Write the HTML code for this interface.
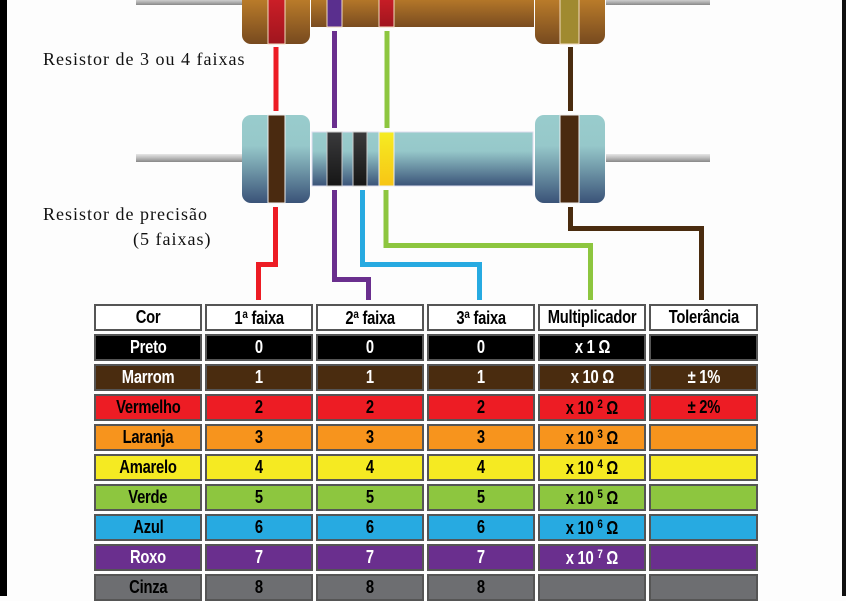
<!DOCTYPE html>
<html><head><meta charset="utf-8"><style>
*{margin:0;padding:0;box-sizing:border-box}
body{width:846px;height:596px;background:#fdfdfd;position:relative;overflow:hidden;font-family:"Liberation Sans",sans-serif}
.lab{position:absolute;font-family:"Liberation Serif",serif;font-size:18px;letter-spacing:1px;color:#111;white-space:nowrap}
.c{position:absolute;height:27px;border:2px solid #555;display:flex;align-items:center;justify-content:center;font-weight:bold;font-size:18px;letter-spacing:-0.3px}
.c span{display:inline-block;transform:scaleX(0.82);white-space:nowrap}
sup{font-size:12px;vertical-align:6px}
</style></head><body>
<div style="position:absolute;left:0;top:0;width:7px;height:596px;background:#000"></div>
<div style="position:absolute;left:842px;top:0;width:4px;height:596px;background:#111"></div>
<svg width="846" height="300" style="position:absolute;left:0;top:0">
<defs>
<linearGradient id="br" x1="0" y1="0" x2="0" y2="1"><stop offset="0" stop-color="#c8862c"/><stop offset="1" stop-color="#774a1f"/></linearGradient>
<linearGradient id="brb" x1="0" y1="0" x2="0" y2="1"><stop offset="0" stop-color="#c8862c"/><stop offset="1" stop-color="#7a4c20"/></linearGradient>
<linearGradient id="bl" x1="0" y1="0" x2="0" y2="1"><stop offset="0" stop-color="#99cccc"/><stop offset="0.35" stop-color="#96c8ca"/><stop offset="1" stop-color="#3a5378"/></linearGradient>
<linearGradient id="ld" x1="0" y1="0" x2="0" y2="1"><stop offset="0" stop-color="#e6e6e6"/><stop offset="0.5" stop-color="#bbb"/><stop offset="1" stop-color="#888"/></linearGradient>
<linearGradient id="rd" x1="0" y1="0" x2="0" y2="1"><stop offset="0" stop-color="#d42029"/><stop offset="1" stop-color="#a0151e"/></linearGradient>
<linearGradient id="bk" x1="0" y1="0" x2="0" y2="1"><stop offset="0" stop-color="#3a3a3c"/><stop offset="1" stop-color="#161616"/></linearGradient>
<linearGradient id="ye" x1="0" y1="0" x2="0" y2="1"><stop offset="0" stop-color="#f6ec22"/><stop offset="1" stop-color="#f7c515"/></linearGradient>
</defs>
<rect x="136" y="-2" width="106" height="7" fill="url(#ld)"/>
<rect x="606" y="-2" width="104" height="7" fill="url(#ld)"/>
<rect x="311" y="-10" width="223" height="37" fill="url(#brb)"/>
<rect x="242" y="-10" width="68" height="54" rx="9" fill="url(#br)"/>
<rect x="535" y="-10" width="70" height="54" rx="9" fill="url(#br)"/>
<rect x="268" y="-10" width="17" height="54" fill="url(#rd)" stroke="#f2dcc0" stroke-width="1"/>
<rect x="327" y="-10" width="15" height="37" fill="#5a2f8e" stroke="#f2dcc0" stroke-width="1"/>
<rect x="379" y="-10" width="15" height="37" fill="url(#rd)" stroke="#f2dcc0" stroke-width="1"/>
<rect x="560" y="-10" width="19" height="54" fill="#a08a30" stroke="#f2dcc0" stroke-width="1"/>
<rect x="136" y="154" width="106" height="8" fill="url(#ld)"/>
<rect x="606" y="154" width="104" height="8" fill="url(#ld)"/>
<rect x="312" y="132" width="221" height="54" fill="url(#bl)" stroke="#dde" stroke-width="1"/>
<rect x="242" y="115" width="68" height="88" rx="9" fill="url(#bl)"/>
<rect x="535" y="115" width="70" height="88" rx="9" fill="url(#bl)"/>
<rect x="268" y="115" width="17" height="88" fill="#4a2a10" stroke="#eee" stroke-width="1"/>
<rect x="560" y="115" width="19" height="88" fill="#4a2a10" stroke="#eee" stroke-width="1"/>
<rect x="327" y="132" width="15" height="54" fill="url(#bk)" stroke="#ccc" stroke-width="1"/>
<rect x="353" y="132" width="14" height="54" fill="url(#bk)" stroke="#ccc" stroke-width="1"/>
<rect x="379" y="132" width="15" height="54" fill="url(#ye)" stroke="#eee" stroke-width="1"/>
<g fill="none" stroke-width="5">
<line x1="276" y1="47" x2="276" y2="111" stroke="#ed1c24"/>
<line x1="334.5" y1="31" x2="334.5" y2="128" stroke="#6a2f8e"/>
<line x1="387" y1="31" x2="387" y2="128" stroke="#8dc63f"/>
<line x1="570.5" y1="47" x2="570.5" y2="111" stroke="#4a2c0f"/>
<polyline points="275.5,207 275.5,264.5 258.5,264.5 258.5,300" stroke="#ed1c24"/>
<polyline points="334.5,190 334.5,279.5 368.5,279.5 368.5,300" stroke="#6a2f8e"/>
<polyline points="362.5,190 362.5,264.5 479.5,264.5 479.5,300" stroke="#27aae1"/>
<polyline points="386,190 386,245.5 590.5,245.5 590.5,300" stroke="#8dc63f"/>
<polyline points="570.5,207 570.5,228.5 701.5,228.5 701.5,300" stroke="#4a2c0f"/>
</g>
</svg>
<div class="lab" style="left:43px;top:49px">Resistor de 3 ou 4 faixas</div>
<div class="lab" style="left:43px;top:204px">Resistor de precisão</div>
<div class="lab" style="left:133px;top:229px">(5 faixas)</div>
<div id="t"></div>
<script>
var cols=[94,205,316,427,538,649],w=[108,108,108,108,108,109];
var rows=[
["#fff","#000",["Cor","1<sup>a</sup> faixa","2<sup>a</sup> faixa","3<sup>a</sup> faixa","Multiplicador","Tolerância"]],
["#000","#fff",["Preto","0","0","0","x 1 Ω",""]],
["#4a2c0f","#fff",["Marrom","1","1","1","x 10 Ω","± 1%"]],
["#ed1c24","#000",["Vermelho","2","2","2","x 10 <sup>2</sup> Ω","± 2%"]],
["#f7941d","#000",["Laranja","3","3","3","x 10 <sup>3</sup> Ω",""]],
["#f5ea22","#000",["Amarelo","4","4","4","x 10 <sup>4</sup> Ω",""]],
["#8dc63f","#000",["Verde","5","5","5","x 10 <sup>5</sup> Ω",""]],
["#27aae1","#000",["Azul","6","6","6","x 10 <sup>6</sup> Ω",""]],
["#6a2f8e","#fff",["Roxo","7","7","7","x 10 <sup>7</sup> Ω",""]],
["#6d6e71","#000",["Cinza","8","8","8","",""]]];
var h="";
rows.forEach(function(r,i){var top=i==0?304:334+30*(i-1);
r[2].forEach(function(t,j){h+='<div class="c" style="left:'+cols[j]+'px;top:'+top+'px;width:'+w[j]+'px;background:'+r[0]+';color:'+r[1]+'"><span>'+t+'</span></div>';});});
document.getElementById("t").innerHTML=h;
</script>
</body></html>
